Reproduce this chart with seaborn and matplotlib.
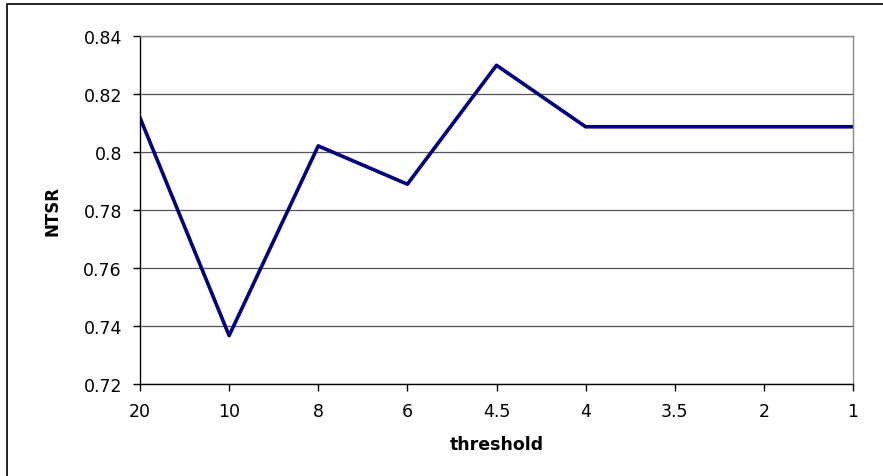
import pandas as pd
import seaborn as sns
import matplotlib.pyplot as plt
from matplotlib.patches import Rectangle

# data
thresholds = ['20', '10', '8', '6', '4.5', '4', '3.5', '2', '1']
ntsr = [0.8118, 0.7367, 0.8021, 0.7889, 0.8299, 0.8087, 0.8087, 0.8087, 0.8087]
y_ticks = [0.72, 0.74, 0.76, 0.78, 0.80, 0.82, 0.84]
y_tick_labels = ['0.72', '0.74', '0.76', '0.78', '0.8', '0.82', '0.84']

df = pd.DataFrame({'threshold': thresholds, 'NTSR': ntsr})

sns.set_style('white')
# wide font mimics the horizontally stretched Excel text
plt.rcParams['font.family'] = ['DejaVu Sans']
plt.rcParams['text.color'] = 'black'
plt.rcParams['axes.labelcolor'] = 'black'
plt.rcParams['xtick.color'] = 'black'
plt.rcParams['ytick.color'] = 'black'

fig = plt.figure(figsize=(8.83, 4.77), dpi=100)
ax = fig.add_axes([140 / 883, 1 - 385 / 477, (853 - 140) / 883, (385 - 37) / 477])

# outer chart frame (only top and left edges visible in the reference)
fig.patches.append(Rectangle((7 / 883, -0.1), 1.2, 1 - 5 / 477 + 0.1, transform=fig.transFigure,
                             fill=False, edgecolor='black', linewidth=1.2))

sns.lineplot(data=df, x='threshold', y='NTSR', sort=False, color='#000080', linewidth=2.6, ax=ax)

ax.set_xlim(0, len(thresholds) - 1)
ax.set_ylim(0.72, 0.84)
ax.set_yticks(y_ticks)
ax.set_yticklabels(y_tick_labels)
ax.yaxis.grid(True, color='#555555', linewidth=0.9)
ax.set_axisbelow(True)

for side in ['top', 'right']:
    ax.spines[side].set_color('#888888')
for side in ['left', 'bottom']:
    ax.spines[side].set_color('black')
for s in ax.spines.values():
    s.set_linewidth(1.0)

ax.tick_params(axis='both', which='major', bottom=True, left=True, direction='out',
               length=5, width=1, labelsize=12.5, color='black', labelcolor='black')
ax.tick_params(axis='y', pad=8)
ax.tick_params(axis='x', pad=8)

ax.set_xlabel('threshold', fontsize=12.5, fontweight='bold', labelpad=11)
ax.set_ylabel('NTSR', fontsize=12, fontweight='bold', labelpad=16)

plt.savefig('out.png', dpi=100)
